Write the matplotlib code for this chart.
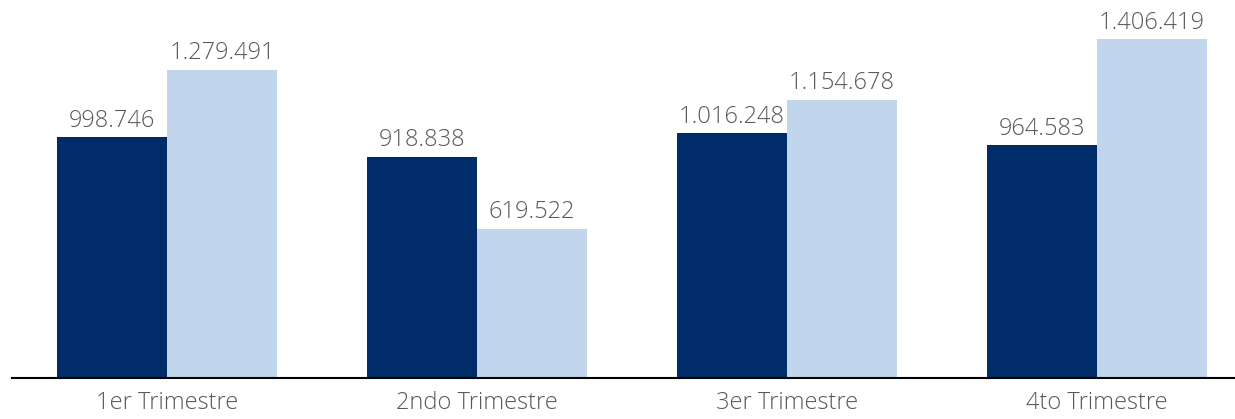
import matplotlib
matplotlib.use("Agg")
import matplotlib.pyplot as plt
import numpy as np

categories = ["1er Trimestre", "2ndo Trimestre", "3er Trimestre", "4to Trimestre"]
serie_a = [998746, 918838, 1016248, 964583]
serie_b = [1279491, 619522, 1154678, 1406419]

dark = "#002D6A"
light = "#C1D5ED"
gray = "#595959"

def fmt(v):
    return f"{v:,}".replace(",", ".")

W, H = 1235, 419
fig = plt.figure(figsize=(W / 100, H / 100), dpi=100)
ax = fig.add_axes([12 / W, (H - 378) / H, 1 - 12 / W, 378 / H])

x = np.arange(len(categories))
w = 110 / 310
b1 = ax.bar(x - w / 2, serie_a, w, color=dark)
b2 = ax.bar(x + w / 2, serie_b, w, color=light)

for bars, vals in ((b1, serie_a), (b2, serie_b)):
    for r, v in zip(bars, vals):
        ax.annotate(fmt(v), (r.get_x() + r.get_width() / 2, v), xytext=(0, 7.5),
                    textcoords="offset points", ha="center", va="baseline",
                    fontsize=17, color=gray, family="Open Sans", fontweight="light")

ax.set_xlim(-0.5, (W - 167) / 310)
ax.set_ylim(0, 378 / 339 * max(serie_b))
ax.set_xticks(x)
ax.set_xticklabels(categories, fontsize=17, color=gray, family="Open Sans", fontweight="light")
ax.tick_params(axis="x", length=0, pad=9)
ax.set_yticks([])
for s in ("top", "right", "left"):
    ax.spines[s].set_visible(False)
ax.spines["bottom"].set_linewidth(1.5)
ax.spines["bottom"].set_color("black")

fig.savefig("out.png", dpi=100)
